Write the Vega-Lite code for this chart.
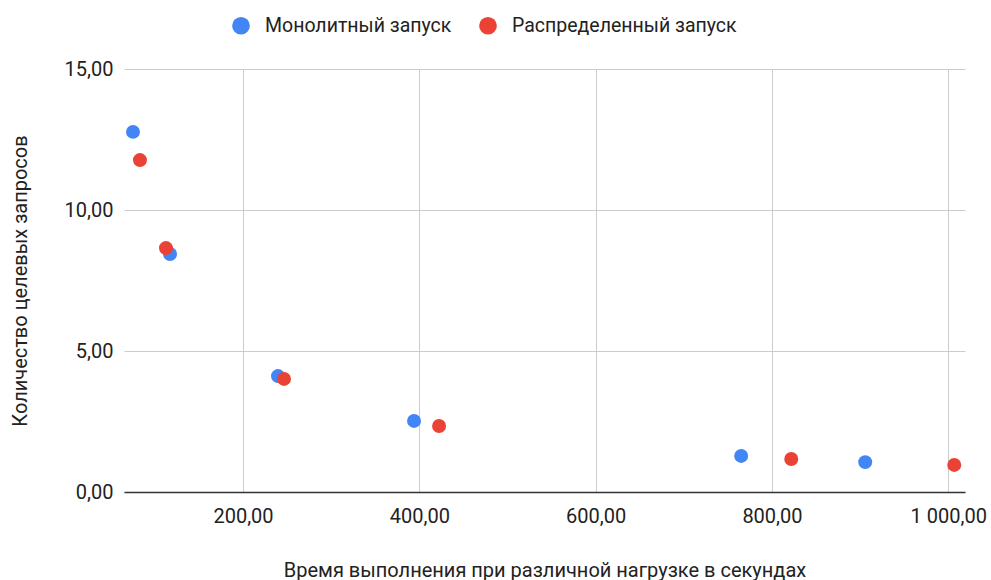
{
  "$schema": "https://vega.github.io/schema/vega-lite/v6.json",
  "autosize": {"type": "none"},
  "width": 841,
  "height": 423,
  "padding": {"left": 124, "top": 69, "right": 26, "bottom": 88},
  "background": "white",
  "config": {
    "view": {"stroke": null},
    "font": "Roboto",
    "axis": {
      "labelFont": "Roboto",
      "titleFont": "Roboto",
      "labelFontSize": 20,
      "titleFontSize": 20,
      "titleFontWeight": "normal",
      "labelColor": "#222222",
      "titleColor": "#222222",
      "gridColor": "#cccccc",
      "gridWidth": 1,
      "ticks": false
    },
    "legend": {"labelFont": "Roboto", "labelFontSize": 19.5, "labelColor": "#222222", "labelLimit": 400}
  },
  "data": {
    "values": [
      {"time": 75.2, "requests": 12.77, "mode": "Монолитный запуск"},
      {"time": 117.2, "requests": 8.44, "mode": "Монолитный запуск"},
      {"time": 239.7, "requests": 4.11, "mode": "Монолитный запуск"},
      {"time": 394.0, "requests": 2.52, "mode": "Монолитный запуск"},
      {"time": 765.1, "requests": 1.28, "mode": "Монолитный запуск"},
      {"time": 905.8, "requests": 1.06, "mode": "Монолитный запуск"},
      {"time": 83.1, "requests": 11.77, "mode": "Распределенный запуск"},
      {"time": 112.6, "requests": 8.65, "mode": "Распределенный запуск"},
      {"time": 246.5, "requests": 4.01, "mode": "Распределенный запуск"},
      {"time": 422.4, "requests": 2.34, "mode": "Распределенный запуск"},
      {"time": 821.9, "requests": 1.17, "mode": "Распределенный запуск"},
      {"time": 1006.8, "requests": 0.96, "mode": "Распределенный запуск"}
    ]
  },
  "mark": {"type": "point", "filled": true, "shape": "circle", "size": 195, "opacity": 1},
  "encoding": {
    "x": {
      "field": "time",
      "type": "quantitative",
      "scale": {"domain": [65, 1019], "nice": false, "zero": false},
      "axis": {
        "title": "Время выполнения при различной нагрузке в секундах",
        "values": [200, 400, 600, 800, 1000],
        "labelExpr": "replace(replace(format(datum.value, ',.2f'), ',', ' '), '.', ',')",
        "labelPadding": 14,
        "titlePadding": 34,
        "domainColor": "#333333",
        "domainWidth": 1.5
      }
    },
    "y": {
      "field": "requests",
      "type": "quantitative",
      "scale": {"domain": [0, 15], "nice": false},
      "axis": {
        "title": "Количество целевых запросов",
        "values": [0, 5, 10, 15],
        "labelExpr": "replace(format(datum.value, '.2f'), '.', ',')",
        "labelPadding": 11,
        "titlePadding": 34,
        "domain": false
      }
    },
    "color": {
      "field": "mode",
      "type": "nominal",
      "scale": {
        "domain": ["Монолитный запуск", "Распределенный запуск"],
        "range": ["#4285F4", "#EA4335"]
      },
      "legend": {
        "title": null,
        "orient": "none",
        "direction": "horizontal",
        "legendX": 107,
        "legendY": -53.5,
        "symbolType": "circle",
        "symbolSize": 314,
        "symbolOpacity": 1,
        "labelOffset": 14,
        "columnPadding": 26
      }
    }
  }
}
